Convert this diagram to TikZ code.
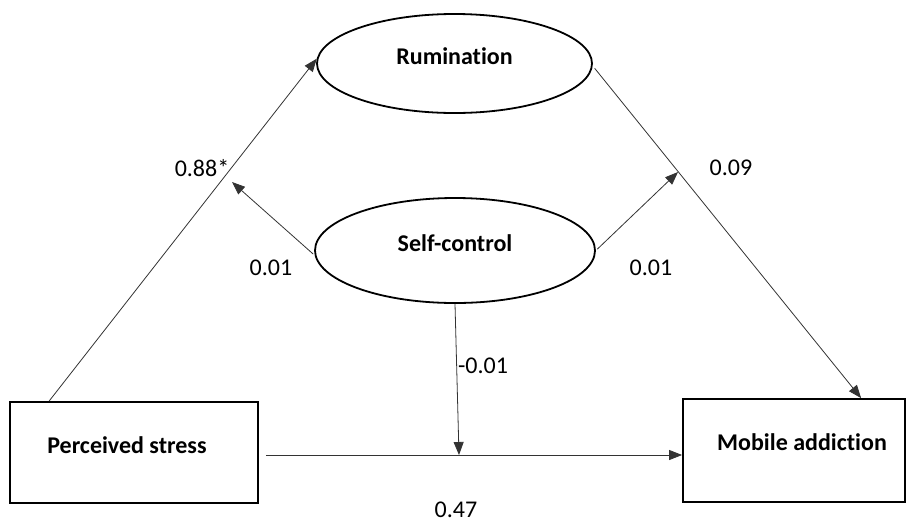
\documentclass[tikz,border=0pt]{standalone}
\usepackage{fontspec}
\setmainfont{Carlito}[Ligatures=NoCommon]
\usetikzlibrary{arrows.meta,calc,shapes.geometric}
\begin{document}
\begin{tikzpicture}[x=1pt,y=-1pt,
  txt/.style={font=\fontsize{24}{28}\selectfont, inner sep=0pt},
  btxt/.style={font=\fontsize{24}{28}\selectfont\bfseries, inner sep=0pt},
  latent/.style={ellipse, draw=black, line width=1.8pt, inner sep=0pt},
  obs/.style={rectangle, draw=black, line width=1.8pt, inner sep=0pt},
  conn/.style={draw=black!80, line width=0.8pt},
  arr/.style={conn, -{Triangle[length=13pt,width=10pt]}}
]
\useasboundingbox (0,0) rectangle (912,523);

% latent variables
\node[latent, minimum width=275pt, minimum height=99pt,
      label={[btxt, yshift=7.5pt]center:Rumination}] (rum) at (454.5,63.5) {};
\node[latent, minimum width=280pt, minimum height=105pt,
      label={[btxt, yshift=7.5pt]center:Self-control}] (sc) at (455,250.5) {};

% observed variables
\node[obs, minimum width=248pt, minimum height=101pt,
      label={[btxt, yshift=7.5pt, xshift=-7pt]center:Perceived stress}] (ps) at (134,452.5) {};
\node[obs, minimum width=222pt, minimum height=103pt,
      label={[btxt, yshift=8.5pt, xshift=8pt]center:Mobile addiction}] (ma) at (794,450.5) {};

% moderation targets
\coordinate (m1) at (232,182);
\coordinate (m2) at (678,172);
\coordinate (m3) at (459,455);

% paths
\draw[arr] ($(ps.north west)+(40,0)$) -- (rum.178);
\draw[arr, shorten <=3pt] (rum.-1) -- ($(ma.north west)+(179,0)$);
\draw[arr, shorten <=2pt] (ps.east |- m3) ++(5,0) -- (ma.west |- m3);
\draw[arr] (sc.south) -- (m3);
\draw[arr, shorten <=2pt] (sc.182) -- (m1);
\draw[arr, shorten <=2pt] (sc.east) -- (m2);

% coefficients
\node[txt] (l1) at (202,168) {0.88*};
\node[txt] (l2) at (271,268) {0.01};
\node[txt] (l3) at (651,268) {0.01};
\node[txt] (l4) at (731,168) {0.09};
\node[txt] (l5) at (483,366) {-0.01};
\node[txt] (l6) at (456,510) {0.47};
\end{tikzpicture}
\end{document}
